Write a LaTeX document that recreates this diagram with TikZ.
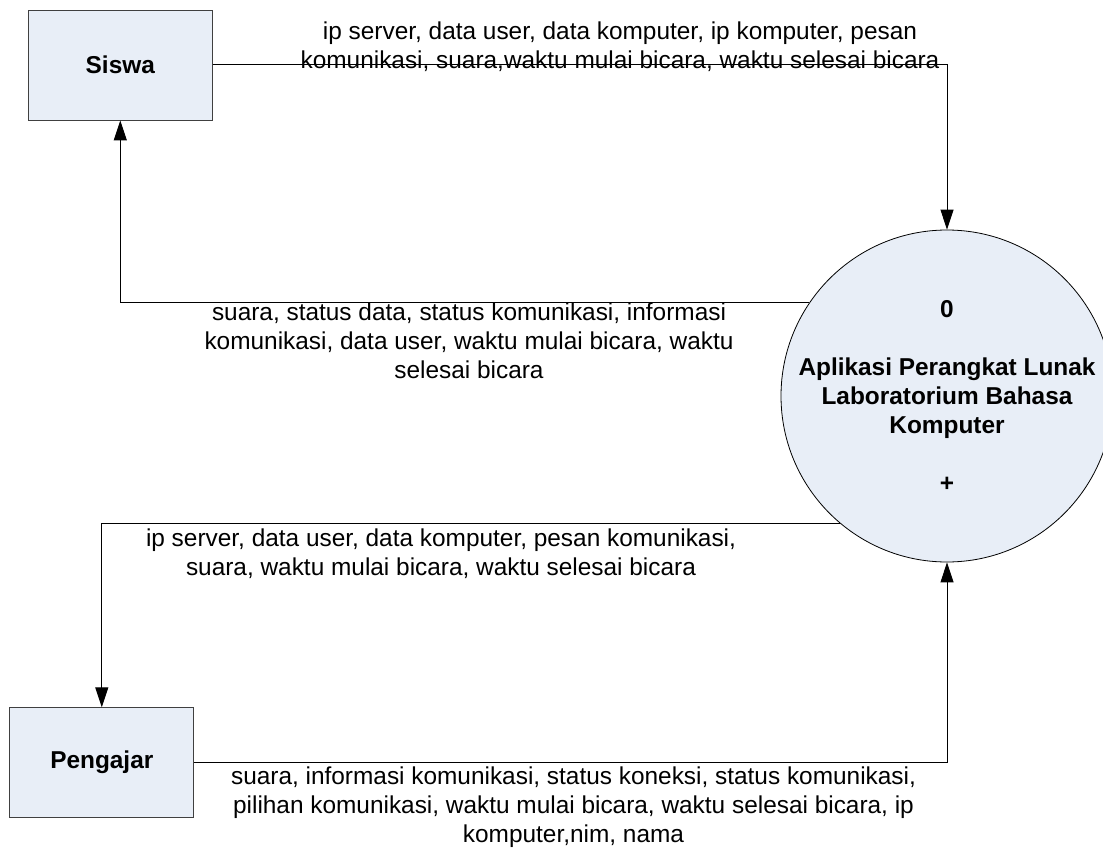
\documentclass[tikz,border=0pt]{standalone}
\usepackage{fontspec}
\setmainfont{Liberation Sans}
\usetikzlibrary{arrows.meta}
\definecolor{boxblue}{RGB}{232,238,247}
\begin{document}
\begin{tikzpicture}[x=1pt,y=-1pt,
  every node/.style={font=\fontsize{24.4}{29}\selectfont},
  entity/.style={draw=black!75, line width=0.8pt, fill=boxblue,
    minimum width=184pt, minimum height=110pt, inner sep=0pt,
    font=\fontsize{24.4}{29}\selectfont\bfseries},
  process/.style={circle, draw=black, line width=0.8pt, fill=boxblue,
    minimum size=332pt, inner sep=0pt},
  proctext/.style={align=center, inner sep=0pt,
    font=\fontsize{24.4}{29}\selectfont\bfseries},
  flowlbl/.style={align=center, inner sep=0pt, anchor=north},
  flow/.style={draw=black, line width=1pt, -{Triangle[length=20pt,width=13pt]}}]
\path[use as bounding box] (0,0) rectangle (1103,848);
\clip (0,0) rectangle (1103,848);

\node[entity] (siswa) at (120.3,65) {Siswa};
\node[entity] (pengajar) at (101.8,762.7) {Pengajar};
\node[process] (proc) at (947,396) {};
\node[proctext] (proclbl) at (proc.center) {0\\[29pt]Aplikasi Perangkat Lunak\\Laboratorium Bahasa\\Komputer\\[29pt]+};

\draw[flow] (siswa.east) -| (proc.north);
\draw[flow] (proc.146.35) -| (siswa.south);
\draw[flow] (proc.230.3) -| (pengajar.north);
\draw[flow] (pengajar.east) -| (proc.south);

\node[flowlbl] (lblA) at (620,21.5) {ip server, data user, data komputer, ip komputer, pesan\\komunikasi, suara,waktu mulai bicara, waktu selesai bicara};
\node[flowlbl] (lblB) at (469,302.5) {suara, status data, status komunikasi, informasi\\komunikasi, data user, waktu mulai bicara, waktu\\selesai bicara};
\node[flowlbl] (lblC) at (441,529) {ip server, data user, data komputer, pesan komunikasi,\\suara, waktu mulai bicara, waktu selesai bicara};
\node[flowlbl] (lblD) at (573.5,766.5) {suara, informasi komunikasi, status koneksi, status komunikasi,\\pilihan komunikasi, waktu mulai bicara, waktu selesai bicara, ip\\komputer,nim, nama};
\end{tikzpicture}
\end{document}
